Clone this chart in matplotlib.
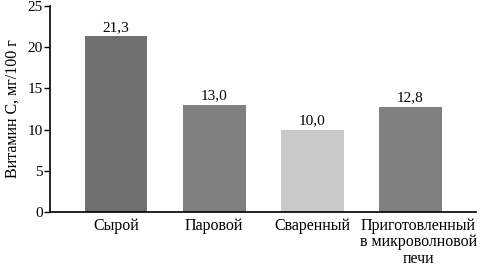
import matplotlib
matplotlib.use("Agg")
from matplotlib import pyplot as plt
from matplotlib import transforms

categories = ["Сырой", "Паровой", "Сваренный", "Приготовленный\nв микроволновой\nпечи"]
values = [21.3, 13.0, 10.0, 12.8]
value_labels = ["21,3", "13,0", "10,0", "12,8"]
bar_colors = ["#6f6f6f", "#808080", "#c9c9c9", "#808080"]
y_ticks = [0, 5, 10, 15, 20, 25]

plt.rcParams["font.family"] = ["Liberation Serif", "DejaVu Serif"]
plt.rcParams["font.size"] = 11

fig = plt.figure(figsize=(4.9, 2.72), dpi=100)
ax = fig.add_axes([50 / 490, 60 / 272, 426 / 490, 206 / 272])

x = range(len(categories))
ax.bar(x, values, width=0.64, color=bar_colors)

for xi, v, lab in zip(x, values, value_labels):
    ax.text(xi, v + 0.3, lab, ha="center", va="bottom", fontsize=11)

ax.set_xlim(-0.673, 3.668)
ax.set_ylim(0, 25)
ax.set_yticks(y_ticks)
ax.set_xticks(list(x))
ax.set_xticklabels(categories, linespacing=1.05, fontsize=11.5, multialignment="center")
ax.tick_params(axis="x", length=0, pad=4)
ax.tick_params(axis="y", length=4, width=1, pad=1, direction="out", labelsize=11)

# last label sits a little right of its bar in the original
last = ax.get_xticklabels()[-1]
last.set_transform(last.get_transform() + transforms.ScaledTranslation(0.08, 0, fig.dpi_scale_trans))

ax.spines["right"].set_visible(False)
ax.spines["top"].set_visible(False)
ax.spines["left"].set_linewidth(1.2)
ax.spines["bottom"].set_linewidth(1.2)

ax.set_ylabel("Витамин С, мг/100 г", labelpad=5, fontsize=11.5)

fig.savefig("out.png", dpi=100)
